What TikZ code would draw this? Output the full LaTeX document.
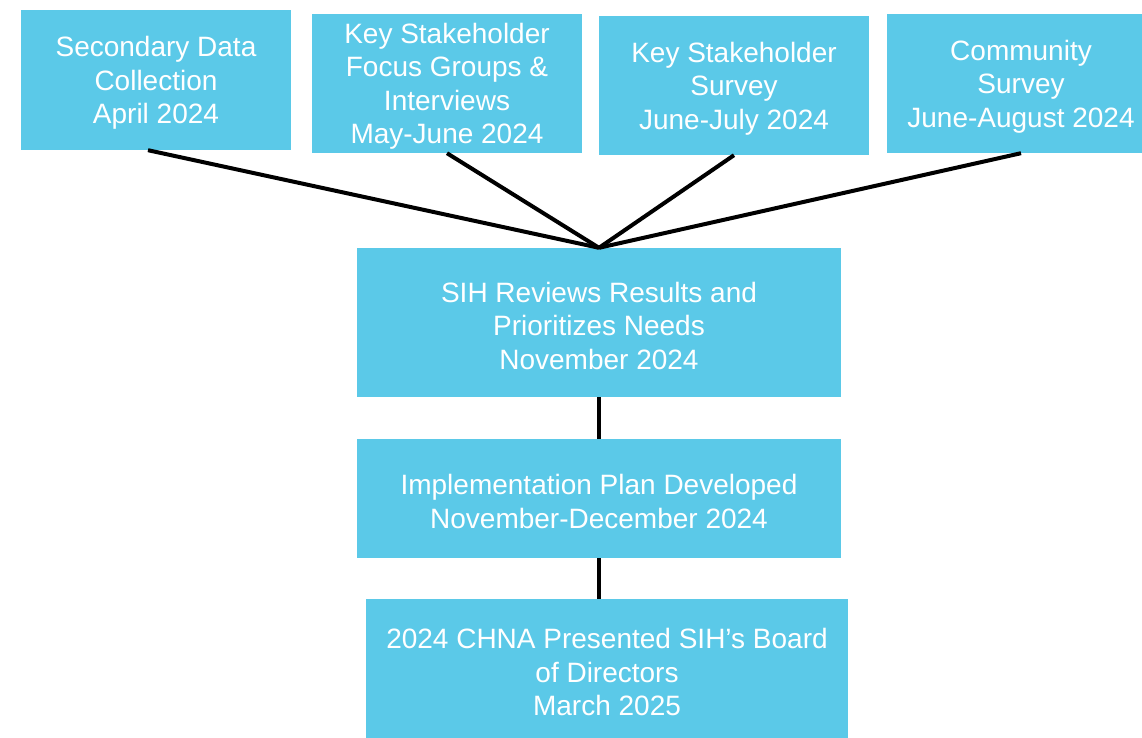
\documentclass[tikz,border=0pt]{standalone}
\usepackage{fontspec}
\setmainfont{Liberation Sans}
\usetikzlibrary{positioning}
\definecolor{boxblue}{HTML}{5BC9E8}

\begin{document}
\begin{tikzpicture}[x=1pt, y=-1pt,
    box/.style={fill=boxblue, inner sep=0pt,
      label={[text=white, align=center, yshift=-3pt,
        font=\fontsize{28}{33.5}\selectfont]center:#1}},
    link/.style={line width=4pt}]
    \useasboundingbox (0,0) rectangle (1142,738);
    \clip (0,0) rectangle (1142,738);
    % Hàng trên
    \node[box={Secondary Data\\Collection\\April 2024}, minimum width=270, minimum height=140] (sec) at (156,80) {};
    \node[box={Key Stakeholder\\Focus Groups \&\\Interviews\\May-June 2024}, minimum width=270, minimum height=139] (focus) at (447,83.5) {};
    \node[box={Key Stakeholder\\Survey\\June-July 2024}, minimum width=270, minimum height=139] (kss) at (734,85.5) {};
    \node[box={Community\\Survey\\June-August 2024}, minimum width=268, minimum height=139] (comm) at (1021,83.5) {};
    % Cột giữa
    \node[box={SIH Reviews Results and\\Prioritizes Needs\\November 2024}, minimum width=484, minimum height=149] (sih) at (599,322.5) {};
    \node[box={Implementation Plan Developed\\November-December 2024}, minimum width=484, minimum height=119] (plan) at (599,498.5) {};
    \node[box={2024 CHNA Presented SIH’s Board\\of Directors\\March 2025}, minimum width=482, minimum height=140] (board) at (607,669) {};

    % Đường nối
    \draw[link] ([xshift=-8pt]sec.south) -- (sih.north);
    \draw[link] (focus.south) -- (sih.north);
    \draw[link] (kss.south) -- (sih.north);
    \draw[link] (comm.south) -- (sih.north);
    \draw[link] (sih.south) -- (plan.north);
    \draw[link] (plan.south) -- ([xshift=-8pt]board.north);
\end{tikzpicture}
\end{document}
